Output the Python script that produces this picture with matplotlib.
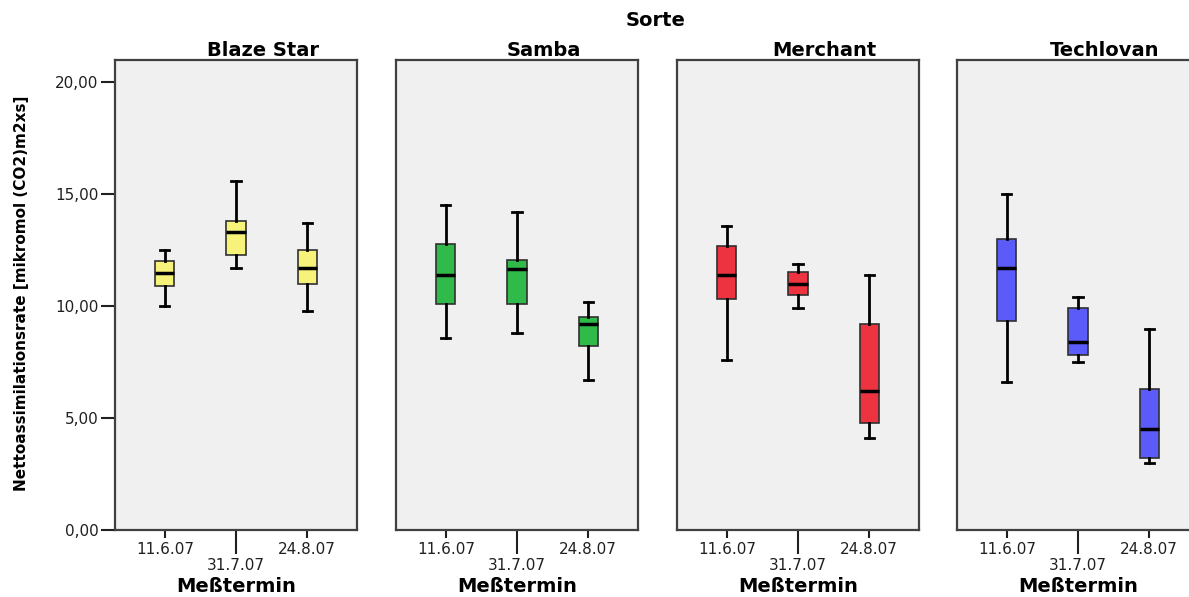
import matplotlib
matplotlib.use("Agg")
import matplotlib.pyplot as plt

# data (whisker low, q1, median, q3, whisker high)
sorten = ["Blaze Star", "Samba", "Merchant", "Techlovan"]
termine = ["11.6.07", "31.7.07", "24.8.07"]
farben = ["#F7F27A", "#30BA4A", "#EE3340", "#5B5BFA"]

blaze_star = [[10.0, 10.9, 11.5, 12.0, 12.5],
              [11.7, 12.3, 13.3, 13.8, 15.6],
              [9.8, 11.0, 11.7, 12.5, 13.7]]
samba = [[8.6, 10.1, 11.4, 12.8, 14.5],
         [8.8, 10.1, 11.65, 12.05, 14.2],
         [6.7, 8.2, 9.2, 9.5, 10.2]]
merchant = [[7.6, 10.3, 11.4, 12.7, 13.6],
            [9.9, 10.5, 11.0, 11.55, 11.9],
            [4.1, 4.8, 6.2, 9.2, 11.4]]
techlovan = [[6.6, 9.35, 11.7, 13.0, 15.0],
             [7.5, 7.8, 8.4, 9.9, 10.4],
             [3.0, 3.2, 4.5, 6.3, 9.0]]
werte = [blaze_star, samba, merchant, techlovan]

yticks = [0, 5, 10, 15, 20]
ylabels = ["0,00", "5,00", "10,00", "15,00", "20,00"]

fig = plt.figure(figsize=(11.89, 5.97), dpi=100)
W, H = 1189.0, 597.0
lefts = [115, 396, 677, 957]
pw = 242
top, bottom = 60, 530

for i, name in enumerate(sorten):
    ax = fig.add_axes([lefts[i] / W, 1 - bottom / H, pw / W, (bottom - top) / H])
    ax.set_facecolor("#F0F0F0")
    stats = []
    for j, v in enumerate(werte[i]):
        stats.append(dict(whislo=v[0], q1=v[1], med=v[2], q3=v[3], whishi=v[4], fliers=[]))
    bp = ax.bxp(stats, positions=[1, 2, 3], widths=0.27, capwidths=0.13,
                patch_artist=True, showfliers=False,
                boxprops=dict(facecolor=farben[i], edgecolor="#303030", linewidth=1.2),
                whiskerprops=dict(color="black", linewidth=2.0),
                capprops=dict(color="black", linewidth=2.0),
                medianprops=dict(color="black", linewidth=2.5))
    ax.set_xlim(0.3, 3.7)
    ax.set_ylim(0, 21)
    for s in ax.spines.values():
        s.set_color("#404040")
        s.set_linewidth(1.6)

    # staggered date labels: outer dates on major ticks, middle one on a long minor tick
    ax.set_xticks([1, 3], [termine[0], termine[2]])
    ax.set_xticks([2], [termine[1]], minor=True)
    ax.tick_params(axis="x", which="major", length=5.5, width=1.5, pad=3,
                   labelsize=11, colors="#202020")
    ax.tick_params(axis="x", which="minor", length=17, width=1.5, pad=3,
                   labelsize=11, colors="#202020")

    if i == 0:
        ax.set_yticks(yticks, ylabels)
        ax.tick_params(axis="y", length=10, width=1.5, pad=2, labelsize=11, colors="#202020")
    else:
        ax.set_yticks([])

    ax.text(0.61, 1.0, name, transform=ax.transAxes, ha="center", va="bottom",
            fontsize=14, fontweight="bold")
    fig.text((lefts[i] + pw / 2) / W, 1 - 587 / H, "Meßtermin", ha="center", va="center",
             fontsize=14, fontweight="bold")

fig.text(656 / W, 1 - 20 / H, "Sorte", ha="center", va="center", fontsize=14, fontweight="bold")
fig.text(22 / W, 1 - 293 / H, "Nettoassimilationsrate [mikromol (CO2)m2xs]", rotation=90,
         ha="center", va="center", fontsize=11, fontweight="bold")

fig.savefig("out.png", dpi=100)
